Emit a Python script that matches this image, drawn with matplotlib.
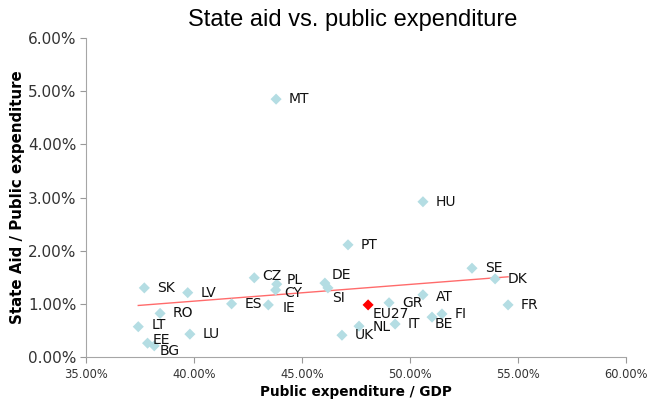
import numpy as np
import matplotlib
matplotlib.use("Agg")
import matplotlib.pyplot as plt
from matplotlib.ticker import PercentFormatter

# DATA (percent)
countries = ["MT", "HU", "PT", "SE", "DK", "FR", "DE", "SI", "AT", "GR",
             "FI", "BE", "IT", "NL", "UK", "SK", "LV", "CZ", "PL", "CY",
             "ES", "IE", "RO", "LT", "LU", "EE", "BG"]
public_exp = [43.80, 50.60, 47.13, 52.87, 53.94, 54.54, 46.06, 46.20, 50.60, 49.03,
              51.48, 51.02, 49.31, 47.64, 46.85, 37.70, 39.71, 42.79, 43.83, 43.78,
              41.74, 43.44, 38.43, 37.42, 39.81, 37.85, 38.16]
state_aid = [4.85, 2.92, 2.11, 1.67, 1.47, 0.98, 1.39, 1.30, 1.17, 1.02,
             0.81, 0.75, 0.62, 0.58, 0.41, 1.30, 1.21, 1.49, 1.37, 1.26,
             1.00, 0.98, 0.82, 0.57, 0.43, 0.26, 0.21]
eu_label = "EU27"
eu_exp = 48.06
eu_aid = 0.98

# label offsets in pixels (dx, dy), default to the right
offsets = {"EU27": (5, -9), "BE": (3, -7), "CY": (9, -3), "PL": (10, 4),
           "DE": (7, 8), "SI": (4, -10), "EE": (5, 3), "BG": (5, -5),
           "CZ": (8, 2), "AT": (13, -2), "NL": (14, -1), "IE": (14, -3),
           "LT": (13, 2)}

fig = plt.figure(figsize=(6.54, 4.09), dpi=100)
ax = fig.add_axes([86/654, 1-357/409, 540/654, 319/409])

ax.scatter(public_exp, state_aid, marker="D", s=32, color="#B4DDE3",
           edgecolors="none", zorder=3)
ax.scatter([eu_exp], [eu_aid], marker="D", s=32, color="#FF0000",
           edgecolors="none", zorder=4)

# linear trendline over the countries
k, b = np.polyfit(public_exp, state_aid, 1)
xs = np.array([min(public_exp), max(public_exp)])
ax.plot(xs, k*xs + b, color="#FF6B6B", lw=1.0, zorder=2)

for name, x, y in zip(countries + [eu_label], public_exp + [eu_exp], state_aid + [eu_aid]):
    dx, dy = offsets.get(name, (13, 0))
    ax.annotate(name, (x, y), xytext=(dx, dy), textcoords="offset pixels",
                ha="left", va="center", fontsize=10, color="#111111",
                family="DejaVu Sans", zorder=5)

ax.set_xlim(35, 60)
ax.set_ylim(0, 6)
ax.set_xticks(np.arange(35, 60.1, 5))
ax.set_yticks(np.arange(0, 6.1, 1))
ax.xaxis.set_major_formatter(PercentFormatter(decimals=2))
ax.yaxis.set_major_formatter(PercentFormatter(decimals=2))
ax.tick_params(axis="x", labelsize=8.3, colors="#999999", labelcolor="#333333",
               length=4, direction="out", pad=4)
ax.tick_params(axis="y", labelsize=11, colors="#999999", labelcolor="#333333",
               length=4, direction="out", pad=3)
for s in ["top", "right"]:
    ax.spines[s].set_visible(False)
for s in ["left", "bottom"]:
    ax.spines[s].set_color("#A6A6A6")

ax.set_xlabel("Public expenditure / GDP", fontsize=9.8, fontweight="bold",
              family="DejaVu Sans", labelpad=3)
ax.set_ylabel("State Aid / Public expenditure", fontsize=10.8, fontweight="bold",
              family="DejaVu Sans", labelpad=2)
fig.text(353/654, 1-20/409, "State aid vs. public expenditure",
         ha="center", va="center", fontsize=17, family="Liberation Sans")

fig.savefig("out.png", dpi=100)
